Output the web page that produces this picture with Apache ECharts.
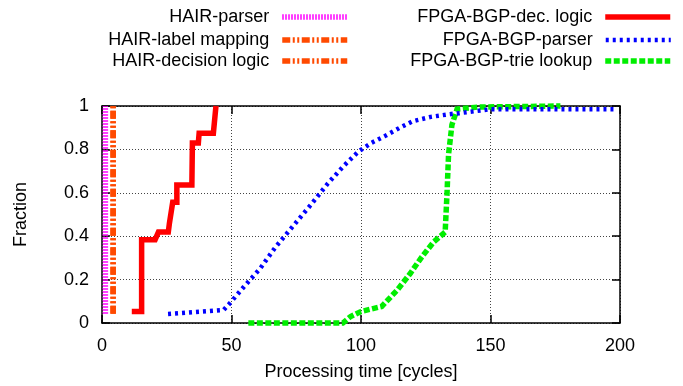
<!DOCTYPE html>
<html>
<head>
<meta charset="utf-8">
<script src="https://cdn.jsdelivr.net/npm/echarts@6/dist/echarts.min.js"></script>
<style>html,body{margin:0;padding:0;background:#fff}#c{width:683px;height:386px}</style>
</head>
<body>
<div id="c"></div>
<script>
// ---- data (x = processing time [cycles], y = fraction) ----
var seriesNames = ['HAIR-parser', 'HAIR-label mapping', 'HAIR-decision logic',
                   'FPGA-BGP-dec. logic', 'FPGA-BGP-parser', 'FPGA-BGP-trie lookup'];
var xTicks = [0, 50, 100, 150, 200];
var yTicks = [0, 0.2, 0.4, 0.6, 0.8, 1];

var hairParser = [[1.3, 0.043], [1.3, 1.0]];
var hairLabelMapping = [[4.3, 0.043], [4.3, 1.0]];
var hairDecisionLogic = [[4.3, 0.043], [4.3, 1.0]];

var fpgaDecLogic = [[11.5, 0.053], [15.3, 0.053], [15.3, 0.384], [20.5, 0.384], [21.8, 0.419],
  [25.6, 0.419], [26, 0.457], [27.3, 0.556], [28.9, 0.556], [28.9, 0.636], [34.7, 0.636],
  [34.9, 0.83], [37.2, 0.83], [37.5, 0.875], [43, 0.875], [44, 1.0]];

var fpgaParser = [[25.5, 0.042], [35, 0.05], [47, 0.06], [50, 0.1], [55, 0.17], [61, 0.25],
  [67, 0.35], [74, 0.45], [81, 0.55], [87, 0.64], [93, 0.72], [99, 0.79], [104, 0.83],
  [109, 0.86], [115, 0.9], [120, 0.93], [127, 0.95], [134, 0.962], [138, 0.967],
  [150, 0.985], [199, 0.985]];

var fpgaTrie = [[56.5, 0], [93, 0], [96, 0.03], [100, 0.053], [108, 0.076], [114, 0.152],
  [119, 0.228], [123.5, 0.305], [128, 0.373], [132.5, 0.419], [133.2, 0.594], [133.8, 0.776],
  [135.1, 0.913], [137.1, 0.986], [145, 0.995], [177, 1.0]];

var seriesData = [hairParser, hairLabelMapping, hairDecisionLogic, fpgaDecLogic, fpgaParser, fpgaTrie];

// ---- styles ----
var FONT = 'Liberation Sans';
var FS = 18;
var styles = [
  {color: '#ff00ff', width: 5.5, type: [1.5, 1.5]},
  {color: '#ff4a00', width: 5.5, type: [8, 2.5, 2, 2.5, 2, 2.5]},
  {color: '#ff4a00', width: 5.5, type: [8, 2.5, 2, 2.5, 2, 2.5]},
  {color: '#ff0000', width: 5.5, type: 'solid'},
  {color: '#0000ff', width: 4.5, type: [3, 4]},
  {color: '#00ee00', width: 5.5, type: [6, 2.5]}
];
var legendPos = [
  {right: 333, top: 7}, {right: 333, top: 30}, {right: 333, top: 51},
  {right: 10, top: 7}, {right: 10, top: 30}, {right: 10, top: 51}
];

var series = seriesNames.map(function (n, i) {
  return {
    name: n, type: 'line', data: seriesData[i], symbol: 'none', clip: false,
    xAxisIndex: 0, yAxisIndex: 0,
    lineStyle: {color: styles[i].color, width: styles[i].width, type: styles[i].type, cap: 'butt', join: 'miter'},
    itemStyle: {color: styles[i].color},
    z: 3 + (5 - i)
  };
});

var legends = seriesNames.map(function (n, i) {
  return {
    data: [n], right: legendPos[i].right, top: legendPos[i].top, align: 'right', orient: 'vertical',
    itemWidth: 65, itemHeight: 10, padding: 0, selectedMode: false,
    lineStyle: {width: 'inherit'},
    itemStyle: {opacity: 0, borderWidth: 0},
    textStyle: {fontFamily: FONT, fontSize: FS, color: '#000', padding: [0, 8, 0, 0], lineHeight: 20}
  };
});

var tickStyle = {show: true, inside: true, length: 8, lineStyle: {color: '#000', width: 1.5}};
var lineAx = {show: true, onZero: false, lineStyle: {color: '#000', width: 1.5}};
var gridLine = {show: true, lineStyle: {color: '#444', width: 1, type: [1, 2]}};

var option = {
  animation: false,
  backgroundColor: '#fff',
  legend: legends,
  grid: {left: 102, right: 63, top: 106, bottom: 61, containLabel: false},
  xAxis: [
    {type: 'value', min: xTicks[0], max: xTicks[xTicks.length - 1], interval: 50, position: 'bottom',
     axisLine: lineAx, axisTick: tickStyle, splitLine: gridLine,
     axisLabel: {fontFamily: FONT, fontSize: FS, color: '#000', margin: 14},
     name: 'Processing time [cycles]', nameLocation: 'middle', nameGap: 40,
     nameTextStyle: {fontFamily: FONT, fontSize: FS, color: '#000'}},
    {type: 'value', min: xTicks[0], max: xTicks[xTicks.length - 1], interval: 50, position: 'top',
     axisLine: lineAx, axisTick: tickStyle, splitLine: {show: false}, axisLabel: {show: false}}
  ],
  yAxis: [
    {type: 'value', min: yTicks[0], max: yTicks[yTicks.length - 1], interval: 0.2, position: 'left',
     axisLine: lineAx, axisTick: tickStyle, splitLine: gridLine,
     axisLabel: {fontFamily: FONT, fontSize: FS, color: '#000', margin: 13},
     name: 'Fraction', nameLocation: 'middle', nameGap: 72,
     nameTextStyle: {fontFamily: FONT, fontSize: FS, color: '#000'}},
    {type: 'value', min: yTicks[0], max: yTicks[yTicks.length - 1], interval: 0.2, position: 'right',
     axisLine: lineAx, axisTick: tickStyle, splitLine: {show: false}, axisLabel: {show: false}}
  ],
  series: series
};

var chart = echarts.init(document.getElementById('c'), null, {renderer: 'canvas'});
chart.setOption(option);
</script>
</body>
</html>
